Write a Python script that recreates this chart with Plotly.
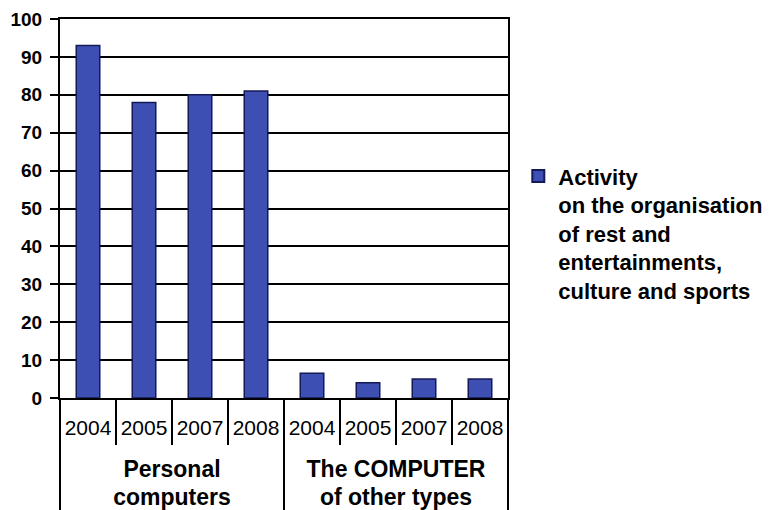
import plotly.graph_objects as go

groups = (["<span style='font-size:23px'><b>Personal<br>computers</b></span>"] * 4
          + ["<span style='font-size:23px'><b>The COMPUTER<br>of other types</b></span>"] * 4)
years = ["2004", "2005", "2007", "2008", "2004", "2005", "2007", "2008"]
values = [93, 78, 80, 81, 6.5, 4, 5, 5]
series_name = "<b>Activity<br>on the organisation<br>of rest and<br>entertainments,<br>culture and sports</b>"

year_labels = [y + "<br> " for y in years]

fig = go.Figure()
fig.add_trace(go.Bar(
    x=[groups, year_labels], y=values, name=series_name,
    marker=dict(color="#3D4FB3", line=dict(color="#141a55", width=1.5)),
    width=0.42, showlegend=True,
))

fig.update_layout(
    width=782, height=510,
    margin=dict(l=52, r=282, t=11, b=120),
    paper_bgcolor="white", plot_bgcolor="white",
    font=dict(family="Liberation Sans, Arial, sans-serif", color="black", size=16),
    legend=dict(x=1.023, y=0.435, xanchor="left", yanchor="middle",
                font=dict(size=22, family="Liberation Sans, Arial, sans-serif"),
                itemsizing="constant", valign="top"),
)
fig.update_yaxes(
    range=[0, 100], dtick=10, showgrid=True, gridcolor="black", gridwidth=2,
    showline=True, linecolor="black", linewidth=2, mirror=True,
    ticks="outside", ticklen=8, tickcolor="black", tickwidth=2,
    ticklabelstandoff=4, automargin=False,
    tickfont=dict(size=19, family="Liberation Sans, Arial", weight="bold"),
    zeroline=False,
)
fig.update_xaxes(
    type="multicategory", showline=True, linecolor="black", linewidth=2, mirror=True,
    ticks="outside", tickson="boundaries", ticklen=45, tickcolor="black", tickwidth=2,
    ticklabelstandoff=10, tickangle=0,
    showdividers=True, dividercolor="black", dividerwidth=2, automargin=False,
    tickfont=dict(size=21, family="Liberation Sans, Arial"),
)
fig.write_html("out.html")
